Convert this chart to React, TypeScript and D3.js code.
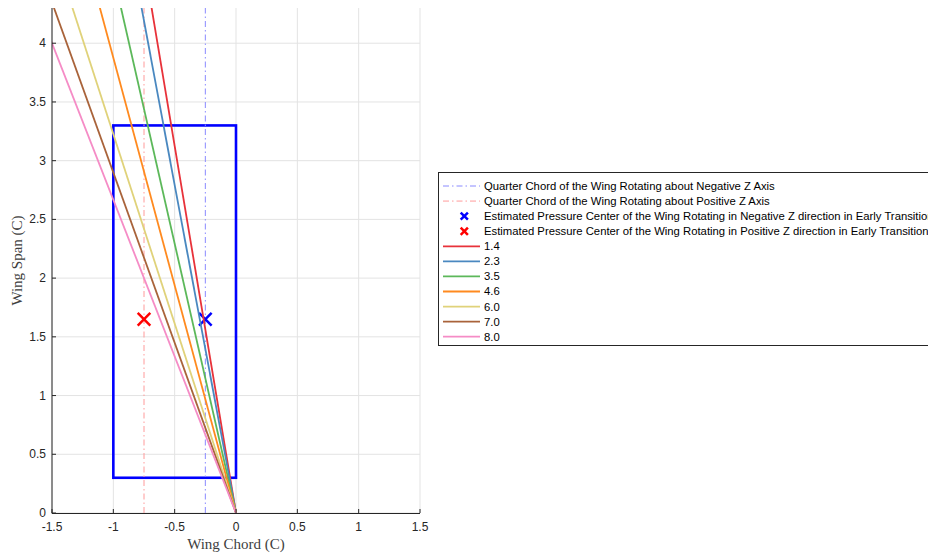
import React from "react";
import * as d3 from "d3";

// Data
const seriesLabels = ["1.4", "2.3", "3.5", "4.6", "6.0", "7.0", "8.0"];
// chord offset per unit span (x at y = 1) for each line starting at origin
const seriesDxPerSpan = [-0.160, -0.179, -0.218, -0.258, -0.310, -0.345, -0.375];
const seriesColors = ["#e8323a", "#4a88c0", "#5cb85a", "#ff8a1f", "#e0d27a", "#a9633a", "#f58cc6"];
const wingX = [-1, 0];
const wingY = [0.3, 3.3];
const quarterChordNeg = -0.25;
const quarterChordPos = -0.75;
const pressureCenterNeg = { x: -0.25, y: 1.65 };
const pressureCenterPos = { x: -0.75, y: 1.65 };
const xTicks = [-1.5, -1, -0.5, 0, 0.5, 1, 1.5];
const yTicks = [0, 0.5, 1, 1.5, 2, 2.5, 3, 3.5, 4];
const legendTexts = [
  "Quarter Chord of the Wing Rotating about Negative Z Axis",
  "Quarter Chord of the Wing Rotating about Positive Z Axis",
  "Estimated Pressure Center of the Wing Rotating in Negative Z direction in Early Transition",
  "Estimated Pressure Center of the Wing Rotating in Positive Z direction in Early Transition",
];

const W = 928;
const H = 557;
const left = 52, right = 420, top = 8, bottom = 513;

export default function App() {
  const x = d3.scaleLinear().domain([-1.5, 1.5]).range([left, right]);
  const y = d3.scaleLinear().domain([0, 4.3]).range([bottom, top]);
  const line = d3.line<[number, number]>().x((d) => x(d[0])).y((d) => y(d[1]));
  const tickFont = "Liberation Sans, Arial, sans-serif";
  const axisColor = "#262626";
  const dashDot = "6,3,1.5,3";

  const cross = (cx: number, cy: number, s: number, color: string, w: number) => (
    <g stroke={color} strokeWidth={w}>
      <line x1={cx - s} y1={cy - s} x2={cx + s} y2={cy + s} />
      <line x1={cx - s} y1={cy + s} x2={cx + s} y2={cy - s} />
    </g>
  );

  const legX = 438, legY = 172, rowH = 15.07, firstRow = 186;
  const rows = legendTexts.length + seriesLabels.length;

  return (
    <svg width={W} height={H} style={{ position: "absolute", left: 0, top: 0, background: "#fff" }}>
      <defs>
        <clipPath id="plotClip">
          <rect x={left} y={top} width={right - left} height={bottom - top} />
        </clipPath>
      </defs>
      {/* grid */}
      <g stroke="#e3e3e3" strokeWidth={1}>
        {xTicks.map((t) => (
          <line key={"gx" + t} x1={x(t)} x2={x(t)} y1={top} y2={bottom} />
        ))}
        {yTicks.map((t) => (
          <line key={"gy" + t} x1={left} x2={right} y1={y(t)} y2={y(t)} />
        ))}
      </g>
      <g clipPath="url(#plotClip)" fill="none">
        {/* wing rectangle */}
        <rect
          x={x(wingX[0])}
          y={y(wingY[1])}
          width={x(wingX[1]) - x(wingX[0])}
          height={y(wingY[0]) - y(wingY[1])}
          stroke="#0000ff"
          strokeWidth={2.6}
          fill="none"
        />
        {/* quarter chord lines */}
        <path d={line([[quarterChordNeg, 0], [quarterChordNeg, 4.3]]) || ""} stroke="#8a8aff" strokeWidth={1} strokeDasharray={dashDot} />
        <path d={line([[quarterChordPos, 0], [quarterChordPos, 4.3]]) || ""} stroke="#ff9a9a" strokeWidth={1} strokeDasharray={dashDot} />
        {/* pressure centers */}
        {cross(x(pressureCenterNeg.x), y(pressureCenterNeg.y), 6.3, "#0000ff", 2.5)}
        {cross(x(pressureCenterPos.x), y(pressureCenterPos.y), 6.3, "#ff0000", 2.5)}
        {/* series lines */}
        {seriesDxPerSpan.map((k, i) => (
          <path key={i} d={line([[0, 0], [k * 5, 5]]) || ""} stroke={seriesColors[i]} strokeWidth={1.8} />
        ))}
      </g>
      {/* axes */}
      <g stroke={axisColor} strokeWidth={1} fill="none">
        <line x1={left} x2={left} y1={top} y2={bottom + 0.5} />
        <line x1={left} x2={right} y1={bottom + 0.5} y2={bottom + 0.5} />
        {xTicks.map((t) => (
          <line key={"tx" + t} x1={x(t)} x2={x(t)} y1={bottom} y2={bottom - 4} />
        ))}
        {yTicks.map((t) => (
          <line key={"ty" + t} x1={left} x2={left + 4} y1={y(t)} y2={y(t)} />
        ))}
      </g>
      <g fontFamily={tickFont} fontSize={12} fill={axisColor}>
        {xTicks.map((t) => (
          <text key={"lx" + t} x={x(t)} y={bottom + 18} textAnchor="middle">
            {String(t)}
          </text>
        ))}
        {yTicks.map((t) => (
          <text key={"ly" + t} x={left - 6} y={y(t) + 4} textAnchor="end">
            {String(t)}
          </text>
        ))}
      </g>
      <text x={x(0)} y={549} textAnchor="middle" fontFamily="Liberation Serif, Times New Roman, serif" fontSize={15} fill="#404040">
        Wing Chord (C)
      </text>
      <text
        transform={`translate(22, ${(top + bottom) / 2}) rotate(-90)`}
        textAnchor="middle"
        fontFamily="Liberation Serif, Times New Roman, serif"
        fontSize={15}
        fill="#404040"
      >
        Wing Span (C)
      </text>
      {/* legend */}
      <rect x={legX + 0.5} y={legY + 0.5} width={520} height={173} fill="#fff" stroke="#262626" strokeWidth={1} />
      <g fontFamily={tickFont} fontSize={11.3} fill="#000">
        {Array.from({ length: rows }).map((_, i) => {
          const ry = firstRow + i * rowH;
          let sample: React.ReactNode = null;
          let label = "";
          if (i === 0) {
            sample = <line x1={443} x2={480} y1={ry} y2={ry} stroke="#8a8aff" strokeDasharray={dashDot} />;
            label = legendTexts[0];
          } else if (i === 1) {
            sample = <line x1={443} x2={480} y1={ry} y2={ry} stroke="#ff9a9a" strokeDasharray={dashDot} />;
            label = legendTexts[1];
          } else if (i === 2) {
            sample = cross(464.3, ry, 3.6, "#0000ff", 2.5);
            label = legendTexts[2];
          } else if (i === 3) {
            sample = cross(464.3, ry, 3.6, "#ff0000", 2.5);
            label = legendTexts[3];
          } else {
            const si = i - 4;
            sample = <line x1={443} x2={480} y1={ry} y2={ry} stroke={seriesColors[si]} strokeWidth={1.8} />;
            label = seriesLabels[si];
          }
          return (
            <g key={"leg" + i}>
              {sample}
              <text x={484} y={ry + 4}>
                {label}
              </text>
            </g>
          );
        })}
      </g>
    </svg>
  );
}
